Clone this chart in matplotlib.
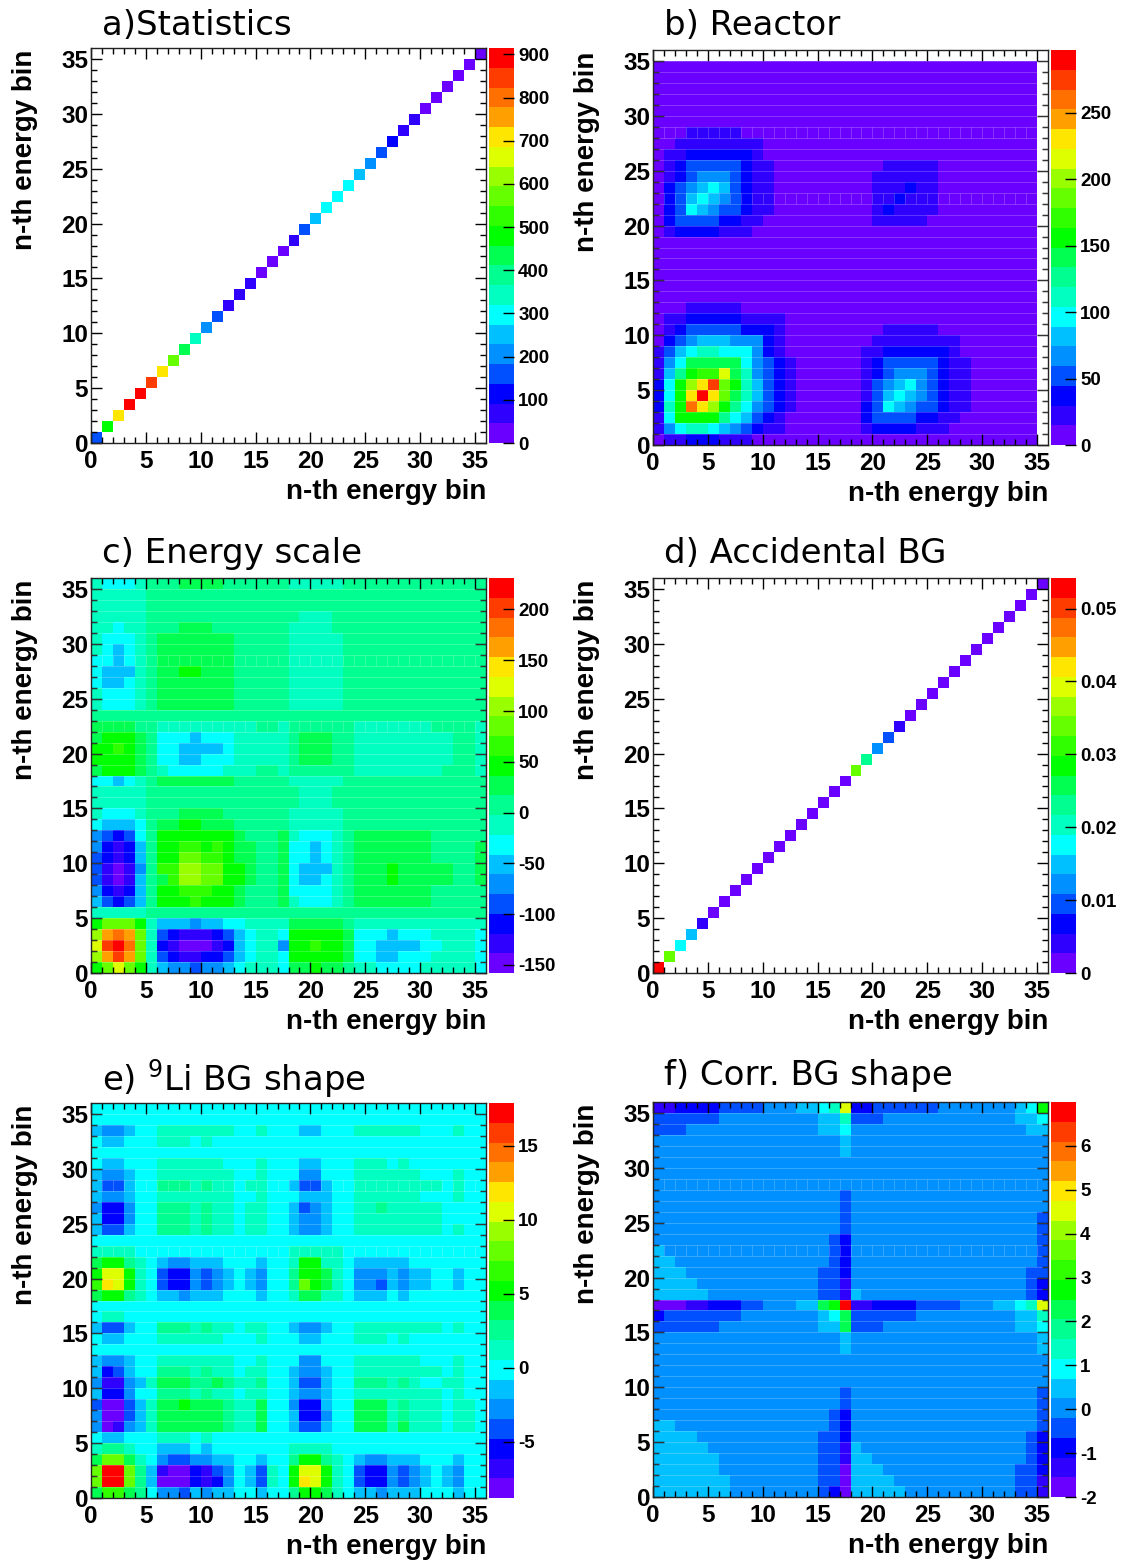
"""Six 36x36 covariance matrices, one panel per uncertainty source."""

import matplotlib

matplotlib.use("Agg")
import matplotlib.pyplot as plt
import numpy as np
from matplotlib.colors import BoundaryNorm, ListedColormap

plt.rcParams["font.family"] = ["Liberation Sans", "DejaVu Sans"]
plt.rcParams["mathtext.default"] = "regular"
plt.rcParams["axes.unicode_minus"] = False

FIG_W, FIG_H = 1128, 1561
N_BINS = 36

PALETTE = [
    "#6a00ff", "#3000ff", "#0000ff", "#0050ff", "#0090ff",
    "#00c0ff", "#00ffff", "#00ffc0", "#00ff90", "#00ff50",
    "#00ff00", "#30ff00", "#66ff00", "#99ff00", "#ddff00",
    "#ffe600", "#ffa000", "#ff7000", "#ff3c00", "#ff0000",
]
LEVEL_CHARS = "0123456789abcdefghij"

# diagonal values, bin 0 to 35
STATISTICS_DIAG = [
    160, 480, 709, 892, 892, 846, 709, 572, 435, 343, 206, 160,
    69, 69, 69, 23, 23, 23, 69, 160, 252, 297, 297, 297,
    252, 206, 160, 114, 69, 69, 23, 23, 23, 23, 23, 23,
]
ACCIDENTAL_DIAG = [
    0.0528, 0.0339, 0.0176, 0.0149, 0.0041, 0.0014, 0.0014, 0.0014, 0.0014,
    0.0014, 0.0014, 0.0014, 0.0014, 0.0014, 0.0014, 0.0014, 0.0014, 0.0014,
    0.0339, 0.0230, 0.0122, 0.0095, 0.0041, 0.0014, 0.0014, 0.0014, 0.0014,
    0.0014, 0.0014, 0.0014, 0.0014, 0.0014, 0.0014, 0.0014, 0.0014, 0.0014,
]

# palette level of each cell, top row (bin 35) first, "." = empty
REACTOR_ROWS = [
    "..... ..... ..... ..... ..... ..... ..... .",
    "00000 00000 00000 00000 00000 00000 00000 .",
    "00000 00000 00000 00000 00000 00000 00000 .",
    "00000 00000 00000 00000 00000 00000 00000 .",
    "00000 00000 00000 00000 00000 00000 00000 .",
    "00000 00000 00000 00000 00000 00000 00000 .",
    "00000 00000 00000 00000 00000 00000 00000 .",
    "00011 11100 00000 00000 00000 00000 00000 .",
    "00111 11111 00000 00000 00000 00000 00000 .",
    "01122 22221 00000 00000 00000 00000 00000 .",
    "01233 33321 10000 00000 01111 10000 00000 .",
    "01234 44321 10000 00000 11111 10000 00000 .",
    "02345 65321 10000 00000 11121 10000 00000 .",
    "02356 54321 10000 00000 11211 10000 00000 .",
    "02365 43321 10000 00000 12111 10000 00000 .",
    "02333 32211 00000 00000 11111 00000 00000 .",
    "01222 21110 00000 00000 00000 00000 00000 .",
    "00000 00000 00000 00000 00000 00000 00000 .",
    "00000 00000 00000 00000 00000 00000 00000 .",
    "00000 00000 00000 00000 00000 00000 00000 .",
    "00000 00000 00000 00000 00000 00000 00000 .",
    "00000 00000 00000 00000 00000 00000 00000 .",
    "00000 00000 00000 00000 00000 00000 00000 .",
    "00011 11100 00000 00000 00000 00000 00000 .",
    "01122 22211 11000 00000 00000 00000 00000 .",
    "01233 33322 21000 00000 01111 10000 00000 .",
    "02345 55444 21000 00000 11111 11100 00000 .",
    "13567 76664 21000 00001 12222 22100 00000 .",
    "14699 99964 32100 00001 23333 32110 00000 .",
    "158ab be974 32100 00001 23444 32110 00000 .",
    "26adf ica75 32100 00001 34564 32110 00000 .",
    "26afj fc975 32100 00001 35654 32110 00000 .",
    "27ahf da864 32100 00002 36543 32110 00000 .",
    "16aaa a8653 21000 00002 33332 21100 00000 .",
    "14677 65432 11000 00001 22221 11000 00000 .",
    "01122 21110 00000 00000 00000 00000 00000 .",
]

ENERGY_SCALE_ROWS = [
    "76667 88899 99888 88877 77788 88888 88888 8",
    "77777 88888 88888 88888 88888 88888 88888 8",
    "77777 88888 88888 88888 88888 88888 88888 8",
    "77777 88888 88888 88887 77888 88888 88888 8",
    "77677 88899 98888 88877 77888 88888 88888 8",
    "76667 89999 99988 88877 77788 88888 88888 8",
    "76567 89999 99988 88877 77788 88888 88888 8",
    "66567 89999 99988 88877 77788 88888 88888 8",
    "65557 899aa 99988 88877 77788 88888 88888 8",
    "65567 89999 99988 88877 77788 88888 88888 8",
    "76667 89999 99988 88877 77788 88888 88888 8",
    "76667 89999 99988 88877 77788 88888 88888 8",
    "88888 88888 88888 88888 88888 88888 88888 8",
    "99998 87777 77777 88788 88887 77777 78888 7",
    "9aaa9 86665 66677 77789 99887 77777 77788 7",
    "aaba9 86655 55677 77789 99887 77777 77788 7",
    "aaaa9 86655 66677 77789 99887 77777 77788 7",
    "9aaa9 87666 66777 88788 88887 77777 77888 7",
    "66567 89999 99988 88877 77788 88888 88888 8",
    "77777 88888 88888 88887 77888 88888 88888 8",
    "77777 88888 88888 88887 77888 88888 88888 8",
    "76667 88899 99888 88877 77788 88888 88888 8",
    "65556 899aa 99988 88877 77788 88888 88888 8",
    "43236 8aaaa aaa98 88976 66789 99999 98888 8",
    "42125 8aabb aba99 88966 56789 99999 98888 9",
    "32125 8aacc bba99 88966 56789 99999 98888 9",
    "31014 8bbdd ccaa9 88965 55789 99a99 99988 9",
    "31015 89bdd ccaa9 88965 56789 99a99 99988 9",
    "42125 8aabb baa98 88966 66789 99999 98888 8",
    "53235 8aaab aaa98 88976 66789 99999 98888 8",
    "77777 88888 88888 88888 88888 88888 88888 8",
    "accca 75554 55667 77799 99987 77777 77777 7",
    "dghgc 73211 12356 776aa aaa96 66566 67777 6",
    "eijhc 72100 01256 774aa baa96 65555 66777 6",
    "dgigc 73211 22356 776aa aaa96 65566 67777 6",
    "aceca 75443 44567 77699 a9987 76666 77777 6",
]

LI9_SHAPE_ROWS = [
    "66666 66666 66666 66666 66666 66666 66666 6",
    "66666 66666 66666 66666 66666 66666 66666 6",
    "54456 67777 77766 76665 56667 77777 66676 6",
    "65566 67776 76666 66666 66666 66666 66666 6",
    "66666 66666 66666 66666 66666 66666 66666 6",
    "65566 67777 77666 76665 56667 77676 66666 6",
    "54456 67777 77766 76664 46667 77777 66676 6",
    "53356 68887 87767 76653 35667 77777 77676 6",
    "54456 67777 77766 76665 55667 77777 66676 6",
    "42246 68887 87767 76653 45667 78777 77666 6",
    "52246 68887 87767 76654 45667 77777 77666 6",
    "53356 68887 87767 76654 45667 77777 77676 6",
    "66666 66666 66666 66666 66666 66666 66666 6",
    "77776 66666 66666 66677 77766 66666 66666 6",
    "9aa87 65445 55666 5667a a7765 55556 66666 6",
    "aeea7 63224 34565 4668a a9764 44545 56656 6",
    "bfea7 63224 34565 4668c a9764 43545 56656 6",
    "9aa87 65545 55666 56679 97765 55656 66666 6",
    "66666 66666 66666 66666 66666 66666 66666 6",
    "67766 66666 66666 66666 66666 66666 66666 6",
    "53356 68887 87767 76654 45667 77777 77676 6",
    "65566 67777 77666 76665 56667 77676 66666 6",
    "66666 66666 66666 66666 66666 66666 66666 6",
    "54456 67777 77766 76664 46667 77777 66676 6",
    "52356 68887 87767 76654 45667 77777 77676 6",
    "41145 79998 89877 86653 35668 88787 66776 6",
    "52246 68887 87767 76654 45667 77777 77676 6",
    "30035 799a9 99877 96642 25669 99787 77677 6",
    "40035 79999 99877 96652 24669 99787 77677 6",
    "40145 79999 99877 96653 35669 99797 77677 6",
    "65566 67776 76666 66666 66666 66666 66666 6",
    "78876 65556 56666 66677 77666 66666 66666 6",
    "9cc97 64334 45566 5668a a8765 44555 66656 6",
    "cjjc8 51002 13465 376ae ea763 22434 56546 6",
    "cjjc8 50002 12465 376af ea763 22434 56546 6",
    "9bb98 64435 45566 5668a a9765 54555 66656 6",
]

CORR_SHAPE_ROWS = [
    "11222 23333 44455 67e22 33333 34444 44456 a",
    "33333 34444 44444 55733 34444 44444 44455 6",
    "33344 44444 44444 55644 44444 44444 44445 5",
    "44444 44444 44444 44544 44444 44444 44444 4",
    "44444 44444 44444 44544 44444 44444 44444 4",
    "44444 44444 44444 44444 44444 44444 44444 4",
    "44444 44444 44444 44444 44444 44444 44444 4",
    "44444 44444 44444 44444 44444 44444 44444 4",
    "44444 44444 44444 44344 44444 44444 44444 4",
    "44444 44444 44444 44344 44444 44444 44444 4",
    "44444 44444 44444 44344 44444 44444 44444 3",
    "44444 44444 44444 44344 44444 44444 44444 3",
    "44444 44444 44444 43244 44444 44444 44444 3",
    "54444 44444 44444 43244 44444 44444 44444 3",
    "55444 44444 44444 43244 44444 44444 44444 3",
    "55544 44444 44444 33244 44444 44444 44443 3",
    "55554 44444 44444 33144 44444 44444 44443 2",
    "55555 44444 44444 33154 44444 44444 44443 2",
    "00011 22233 44455 9aj11 22223 33344 45567 e",
    "23333 33344 44444 56933 33334 44444 44455 7",
    "33333 34444 44444 55933 34444 44444 44455 6",
    "44444 44444 44444 44544 44444 44444 44444 5",
    "44444 44444 44444 44544 44444 44444 44444 5",
    "44444 44444 44444 44444 44444 44444 44444 4",
    "44444 44444 44444 44444 44444 44444 44444 4",
    "44444 44444 44444 44444 44444 44444 44444 4",
    "44444 44444 44444 44344 44444 44444 44444 3",
    "44444 44444 44444 44344 44444 44444 44444 3",
    "44444 44444 44444 43244 44444 44444 44444 3",
    "55444 44444 44444 43244 44444 44444 44444 3",
    "55554 44444 44444 33244 44444 44444 44443 2",
    "55555 44444 44444 33154 44444 44444 44443 2",
    "55555 54444 44444 33155 44444 44444 44443 2",
    "55555 54444 44444 33055 54444 44444 44433 2",
    "55555 55444 44444 33055 55444 44444 44433 1",
    "55555 55444 44444 32055 55544 44444 44433 1",
]

AXIS_TICKS = [0, 5, 10, 15, 20, 25, 30, 35]
STATISTICS_CBAR = [0, 100, 200, 300, 400, 500, 600, 700, 800, 900]
REACTOR_CBAR = [0, 50, 100, 150, 200, 250]
ENERGY_CBAR = [-150, -100, -50, 0, 50, 100, 150, 200]
ACCIDENTAL_CBAR = [0, 0.01, 0.02, 0.03, 0.04, 0.05]
LI9_CBAR = [-5, 0, 5, 10, 15]
CORR_CBAR = [-2, -1, 0, 1, 2, 3, 4, 5, 6]

# rows of the source image that show short white seams between columns
SEAM_ROWS = [22, 28]


def rows_to_matrix(rows, zmin, zmax):
    step = (zmax - zmin) / len(PALETTE)
    matrix = np.ma.masked_all((N_BINS, N_BINS))
    for r, row in enumerate(rows):
        cells = row.replace(" ", "")
        assert len(cells) == N_BINS, row
        for c, ch in enumerate(cells):
            if ch != ".":
                matrix[N_BINS - 1 - r, c] = zmin + (LEVEL_CHARS.index(ch) + 0.5) * step
    return matrix


def diag_to_matrix(values):
    matrix = np.ma.masked_all((N_BINS, N_BINS))
    for i, v in enumerate(values):
        matrix[i, i] = v
    return matrix


def axes_px(fig, left, top, right, bottom):
    return fig.add_axes(
        [left / FIG_W, 1 - bottom / FIG_H, (right - left) / FIG_W, (bottom - top) / FIG_H]
    )


def text_px(fig, x, y, s, **kwargs):
    fig.text(x / FIG_W, 1 - y / FIG_H, s, **kwargs)


def draw_panel(fig, matrix, zmin, zmax, cbar_ticks, title, left, top, title_y, lines=True, cbar_fmt=None):
    right = left + 395
    bottom = top + 395
    ax = axes_px(fig, left, top, right, bottom)
    edges = np.arange(N_BINS + 1)
    cmap = ListedColormap(PALETTE)
    cmap.set_bad("white")
    norm = BoundaryNorm(np.linspace(zmin, zmax, len(PALETTE) + 1), len(PALETTE))
    mesh = ax.pcolormesh(edges, edges, matrix, cmap=cmap, norm=norm, antialiased=False)
    if lines:
        # faint seams left in the source image
        ax.hlines(edges[1:-1], 0, N_BINS, colors="white", linewidth=0.6, alpha=0.25)
        for row in SEAM_ROWS:
            ax.vlines(edges[1:-1], row, row + 1, colors="white", linewidth=0.7, alpha=0.2)
    ax.set_xlim(0, N_BINS)
    ax.set_ylim(0, N_BINS)
    ax.set_xticks(AXIS_TICKS)
    ax.set_yticks(AXIS_TICKS)
    ax.set_xticks(edges[:-1], minor=True)
    ax.set_yticks(edges[:-1], minor=True)
    ax.tick_params(which="major", direction="in", top=True, right=True, length=8, width=1, pad=5)
    ax.tick_params(which="minor", direction="in", top=True, right=True, length=4, width=1)
    ax.tick_params(axis="y", pad=2)
    for label in ax.get_xticklabels() + ax.get_yticklabels():
        label.set_fontsize(17.5)
        label.set_fontweight("bold")
    for spine in ax.spines.values():
        spine.set_color("#222222")
        spine.set_linewidth(1)

    cax = axes_px(fig, right + 3, top, right + 28, bottom)
    cbar = fig.colorbar(mesh, cax=cax, ticks=cbar_ticks, spacing="proportional")
    cbar.outline.set_visible(False)
    cbar.minorticks_off()
    cax.tick_params(direction="in", length=8, width=1, pad=3, labelsize=13.5)
    if cbar_fmt:
        cax.set_yticklabels([cbar_fmt % t for t in cbar_ticks])
    for label in cax.get_yticklabels():
        label.set_fontweight("bold")

    text_px(fig, left - 66, top + 2, "n-th energy bin", rotation=90, ha="center", va="top",
            fontsize=20, fontweight="bold")
    text_px(fig, right, bottom + 56, "n-th energy bin", ha="right", va="baseline",
            fontsize=20, fontweight="bold")
    text_px(fig, left + 11, title_y, title, ha="left", va="baseline", fontsize=24.5,
            family=["DejaVu Sans"])


fig = plt.figure(figsize=(FIG_W / 100, FIG_H / 100), dpi=100)

draw_panel(fig, diag_to_matrix(STATISTICS_DIAG), 0, 915, STATISTICS_CBAR,
           "a)Statistics", 91, 48, 35, lines=False)
draw_panel(fig, rows_to_matrix(REACTOR_ROWS, 0, 297), 0, 297, REACTOR_CBAR,
           "b) Reactor", 653, 50, 35)
draw_panel(fig, rows_to_matrix(ENERGY_SCALE_ROWS, -158, 231), -158, 231, ENERGY_CBAR,
           "c) Energy scale", 91, 578, 563)
draw_panel(fig, diag_to_matrix(ACCIDENTAL_DIAG), 0, 0.0542, ACCIDENTAL_CBAR,
           "d) Accidental BG", 653, 578, 563, lines=False, cbar_fmt="%g")
draw_panel(fig, rows_to_matrix(LI9_SHAPE_ROWS, -8.8, 17.9), -8.8, 17.9, LI9_CBAR,
           "e) $^{9}$Li BG shape", 91, 1103, 1090)
draw_panel(fig, rows_to_matrix(CORR_SHAPE_ROWS, -2, 7), -2, 7, CORR_CBAR,
           "f) Corr. BG shape", 653, 1102, 1085)

plt.savefig("out.png", dpi=100)
plt.close()
